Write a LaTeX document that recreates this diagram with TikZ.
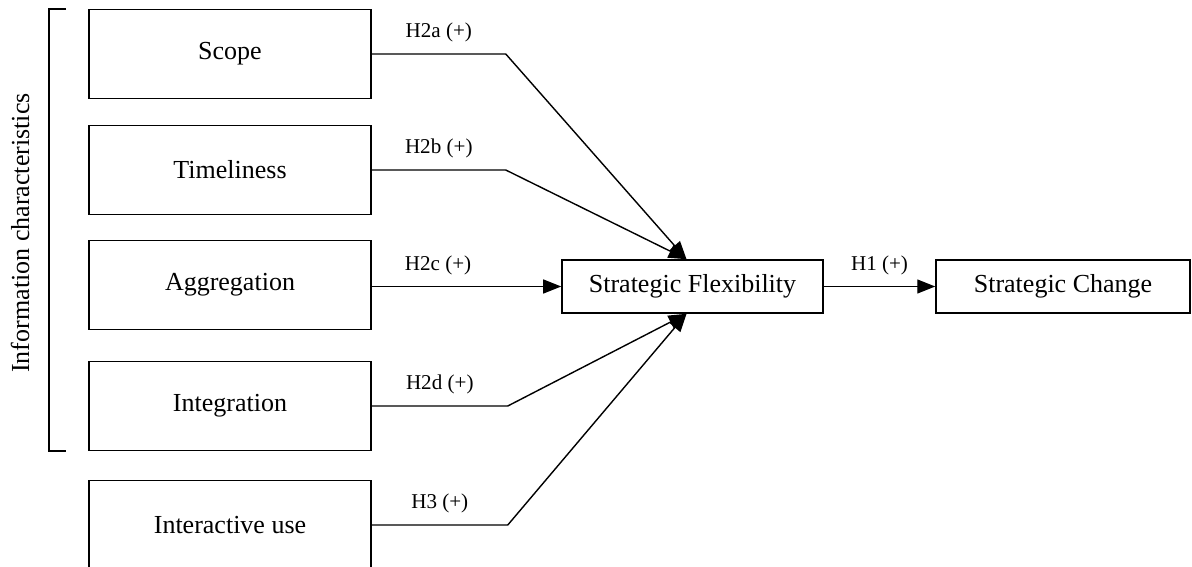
\documentclass[tikz,border=0pt]{standalone}
\usepackage{fontspec}
\setmainfont{Liberation Serif}
\usetikzlibrary{arrows.meta}
\begin{document}
\begin{tikzpicture}[x=0.02cm,y=-0.02cm,
    box/.style={draw,line width=0.9pt,minimum width=5.64cm,minimum height=1.78cm,
      font=\fontsize{14.8}{17}\selectfont},
    wide/.style={draw,line width=0.9pt,minimum width=5.22cm,minimum height=1.06cm,
      font=\fontsize{14.8}{17}\selectfont},
    hyp/.style={font=\fontsize{12}{14}\selectfont,above=3pt},
    link/.style={line width=0.8pt,-{Triangle[length=0.36cm,width=0.28cm]}}]
  \useasboundingbox (0,0) rectangle (1192,567);
  % Information characteristics
  \node[box] (scope) at (230,54) {Scope};
  \node[box] (time) at (230,170) {Timeliness};
  \node[box] (aggr) at (230,285) {Aggregation};
  \node[box] (integ) at (230,406) {Integration};
  \node[box] (inter) at (230,525) {Interactive use};
  \draw[line width=0.9pt] (66,9) -- (49,9) -- (49,451) -- (66,451);
  \node[rotate=90,font=\fontsize{14.8}{17}\selectfont] at (20,233) {Information characteristics};
  % Outcomes
  \node[wide] (flex) at (692.5,286.5) {Strategic Flexibility};
  \node[wide,minimum width=5.08cm] (change) at (1063,286.5) {Strategic Change};
  % Hypotheses
  \draw[link] (scope.east) -- node[hyp] {H2a (+)} ++(134,0) -- ([xshift=-0.12cm]flex.north);
  \draw[link] (time.east) -- node[hyp] {H2b (+)} ++(134,0) -- ([xshift=-0.12cm]flex.north);
  \draw[link] (aggr.east |- flex.west) -- node[hyp,pos=0.35] {H2c (+)} (flex.west);
  \draw[link] (integ.east) -- node[hyp] {H2d (+)} ++(136,0) -- ([xshift=-0.12cm]flex.south);
  \draw[link] (inter.east) -- node[hyp] {H3 (+)} ++(136,0) -- ([xshift=-0.12cm]flex.south);
  \draw[link] (flex.east) -- node[hyp] {H1 (+)} (change.west);
\end{tikzpicture}
\end{document}
